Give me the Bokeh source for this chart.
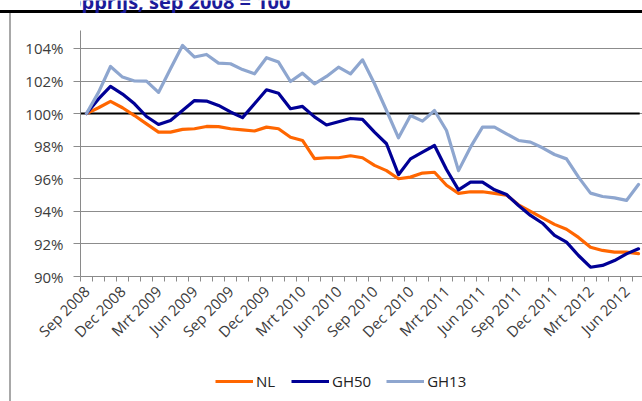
import math
from bokeh.plotting import figure
from bokeh.layouts import column
from bokeh.models import (Range1d, FixedTicker, PrintfTickFormatter, Legend,
                          LegendItem, ColumnDataSource, Label)
from bokeh.embed import file_html
from bokeh.resources import INLINE

# ---------------- data ----------------
months = ["Sep 2008", "Okt 2008", "Nov 2008", "Dec 2008", "Jan 2009", "Feb 2009",
          "Mrt 2009", "Apr 2009", "Mei 2009", "Jun 2009", "Jul 2009", "Aug 2009",
          "Sep 2009", "Okt 2009", "Nov 2009", "Dec 2009", "Jan 2010", "Feb 2010",
          "Mrt 2010", "Apr 2010", "Mei 2010", "Jun 2010", "Jul 2010", "Aug 2010",
          "Sep 2010", "Okt 2010", "Nov 2010", "Dec 2010", "Jan 2011", "Feb 2011",
          "Mrt 2011", "Apr 2011", "Mei 2011", "Jun 2011", "Jul 2011", "Aug 2011",
          "Sep 2011", "Okt 2011", "Nov 2011", "Dec 2011", "Jan 2012", "Feb 2012",
          "Mrt 2012", "Apr 2012", "Mei 2012", "Jun 2012", "Jul 2012"]

tick_labels = ["Sep 2008", "Dec 2008", "Mrt 2009", "Jun 2009", "Sep 2009", "Dec 2009",
               "Mrt 2010", "Jun 2010", "Sep 2010", "Dec 2010", "Mrt 2011", "Jun 2011",
               "Sep 2011", "Dec 2011", "Mrt 2012", "Jun 2012"]

nl = [100.0, 100.36, 100.75, 100.36, 99.88, 99.37, 98.86, 98.86, 99.03, 99.07,
      99.21, 99.2, 99.07, 99.0, 98.93, 99.17, 99.07, 98.55, 98.35, 97.23,
      97.29, 97.29, 97.41, 97.29, 96.82, 96.5, 96.0, 96.1, 96.35, 96.4,
      95.6, 95.1, 95.2, 95.2, 95.1, 95.0, 94.4, 94.0, 93.6, 93.2,
      92.9, 92.4, 91.8, 91.6, 91.5, 91.5, 91.4]

gh50 = [100.0, 100.9, 101.67, 101.2, 100.6, 99.82, 99.33, 99.58, 100.19, 100.8,
        100.77, 100.5, 100.1, 99.75, 100.6, 101.46, 101.25, 100.3, 100.44, 99.8,
        99.3, 99.5, 99.7, 99.65, 98.86, 98.15, 96.25, 97.22, 97.63, 98.04,
        96.57, 95.32, 95.79, 95.79, 95.32, 95.03, 94.36, 93.75, 93.27, 92.52,
        92.11, 91.29, 90.57, 90.68, 90.98, 91.39, 91.7]

gh13 = [100.0, 101.3, 102.89, 102.24, 102.0, 101.99, 101.3, 102.75, 104.18, 103.47,
        103.63, 103.1, 103.06, 102.7, 102.44, 103.43, 103.16, 101.97, 102.48, 101.83,
        102.28, 102.85, 102.44, 103.3, 101.83, 100.19, 98.51, 99.88, 99.54, 100.19,
        98.96, 96.5, 97.94, 99.17, 99.17, 98.76, 98.35, 98.25, 97.9, 97.49,
        97.22, 96.1, 95.12, 94.91, 94.83, 94.67, 95.65]

y_ticks = [90, 92, 94, 96, 98, 100, 102, 104]
reference_level = 100
series_names = ["NL", "GH50", "GH13"]
title_text = "Koopprijs, sep 2008 = 100"

# ---------------- layout constants (page pixels) ----------------
W = 642
HEAD_H = 13            # clipped title + black rule
MAIN_H = 347           # main chart canvas (page y 13 .. 360)
LEG_H = 401 - HEAD_H - MAIN_H
FRAME_L = 80
FRAME_T = 30 - HEAD_H
FRAME_B = 276 - HEAD_H
PX_PER_MONTH = 12.0
x_start = -0.5
x_end = x_start + (W - FRAME_L) / PX_PER_MONTH

FONT = "Open Sans"
LABEL_COLOR = "#3c3c3c"
GRID_COLOR = "#8c8c8c"
LEFT_EDGE = "inset 9px 0 0 0 #ffffff, inset 11px 0 0 0 #a8a8a8"


def bare_figure(height):
    f = figure(width=W, height=height, output_backend="svg", toolbar_location=None,
               x_axis_location=None, y_axis_location=None, min_border=0,
               x_range=Range1d(0, 1), y_range=Range1d(0, 1))
    f.grid.visible = False
    f.outline_line_color = None
    f.background_fill_alpha = 0
    f.border_fill_alpha = 0
    return f


# ---- header: title (cut off at the top as in the source) + black rule
head = bare_figure(HEAD_H)
head.styles = {"box-shadow": "inset 0 -3px 0 0 #000000"}
head.add_layout(Label(x=43 - FRAME_L, y=HEAD_H - 0.5, x_units="screen", y_units="screen",
                      text=title_text, text_font=FONT, text_font_style="bold",
                      text_font_size="20px", text_color="#1b1b9a",
                      text_baseline="alphabetic"))

# ---- main chart
p = figure(width=W, height=MAIN_H, output_backend="svg", toolbar_location=None,
           x_range=Range1d(x_start, x_end), y_range=Range1d(90, 105.1),
           min_border_left=FRAME_L, min_border_right=0,
           min_border_top=FRAME_T, min_border_bottom=MAIN_H - FRAME_B)
p.background_fill_alpha = 0
p.border_fill_alpha = 0
p.outline_line_color = None
p.styles = {"box-shadow": LEFT_EDGE}

yax = p.yaxis[0]
yax.ticker = FixedTicker(ticks=y_ticks)
yax.formatter = PrintfTickFormatter(format="%d%%")
yax.axis_line_color = "#8a8a8a"
yax.major_tick_out = 7
yax.major_tick_in = 0
yax.major_tick_line_color = GRID_COLOR
yax.minor_tick_out = 0
yax.minor_tick_in = 0
yax.major_label_standoff = 10
yax.major_label_text_font = FONT
yax.major_label_text_font_size = "15px"
yax.major_label_text_color = LABEL_COLOR

xidx = list(range(len(months)))
label_pos = [months.index(m) for m in tick_labels]
xax = p.xaxis[0]
xax.ticker = FixedTicker(ticks=label_pos,
                         minor_ticks=[i - 0.5 for i in range(len(months) + 1)])
xax.major_label_overrides = {pos: lab for pos, lab in zip(label_pos, tick_labels)}
xax.major_label_orientation = math.pi / 4
xax.axis_line_color = "#8a8a8a"
xax.major_tick_out = 0
xax.major_tick_in = 0
xax.minor_tick_out = 5
xax.minor_tick_in = 0
xax.minor_tick_line_color = "#8a8a8a"
xax.major_label_standoff = 7
xax.major_label_text_font = FONT
xax.major_label_text_font_size = "15px"
xax.major_label_text_color = LABEL_COLOR

p.xgrid.visible = False
p.ygrid.grid_line_color = GRID_COLOR
p.ygrid.grid_line_width = 1

p.line([x_start, len(months) - 1 + 0.1], [reference_level, reference_level],
       line_color="black", line_width=2)

src = ColumnDataSource(dict(x=xidx, nl=nl, gh50=gh50, gh13=gh13))
colors = ["#FF6600", "#000096", "#8EA6CF"]
for col, c in zip(["nl", "gh50", "gh13"], colors):
    p.line("x", col, source=src, line_color=c, line_width=3.2,
           line_join="round", line_cap="round")

# ---- legend strip (its own small plot so the legend is not clipped);
# the same series are attached but lie outside this strip's visible range
leg = bare_figure(LEG_H)
leg.styles = {"box-shadow": LEFT_EDGE}
leg_renderers = [leg.line("x", col, source=src, line_color=c, line_width=3.2)
                 for col, c in zip(["nl", "gh50", "gh13"], colors)]
legend = Legend(items=[LegendItem(label=n, renderers=[r])
                       for n, r in zip(series_names, leg_renderers)],
                orientation="horizontal", location=(215 - FRAME_L, LEG_H - 31),
                padding=0, margin=0, spacing=15, glyph_width=38, glyph_height=16,
                label_standoff=3, label_text_font=FONT, label_text_font_size="15px",
                label_text_color="#222222", background_fill_alpha=0,
                border_line_color=None)
leg.add_layout(legend)

layout = column(head, p, leg, spacing=0)
open("out.html", "w").write(file_html(layout, INLINE))
